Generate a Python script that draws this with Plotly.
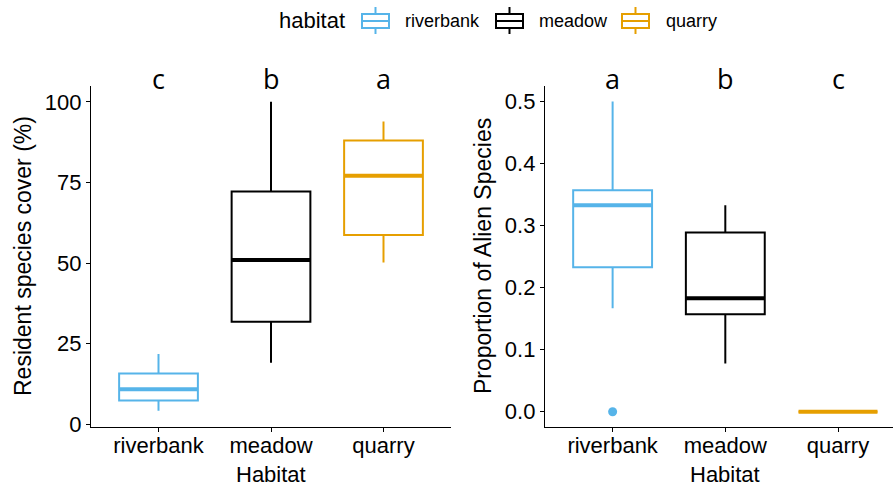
import plotly.graph_objects as go

# ---- data -------------------------------------------------------------
habitats = ["riverbank", "meadow", "quarry"]
colors = ["#56B4E9", "#000000", "#E69F00"]

# Resident species cover (%) box statistics
cover_lower = [4.2, 19.1, 50.2]
cover_q1 = [7.4, 31.8, 58.7]
cover_median = [10.9, 51.0, 77.1]
cover_q3 = [15.8, 72.2, 88.0]
cover_upper = [21.8, 100.0, 93.9]
cover_letters = ["c", "b", "a"]

# Proportion of alien species box statistics
alien_lower = [0.167, 0.078, 0.0]
alien_q1 = [0.233, 0.157, 0.0]
alien_median = [0.333, 0.183, 0.0]
alien_q3 = [0.357, 0.289, 0.0]
alien_upper = [0.5, 0.333, 0.0]
alien_outliers = [[0.0], [], []]
alien_letters = ["a", "b", "c"]

cover_ticks = [0, 25, 50, 75, 100]
alien_ticks = [0.0, 0.1, 0.2, 0.3, 0.4, 0.5]

# ---- layout helpers ---------------------------------------------------
W, H = 893, 486
FONT = "Liberation Sans, Arial, sans-serif"
BOX_W = 0.7


def px(x):
    return x / W


def py(y):
    return 1 - y / H


fig = go.Figure()


def add_panel(xa, ya, lower, q1, med, q3, upper, outliers):
    for i, name in enumerate(habitats):
        pos = i + 1
        fig.add_trace(go.Box(
            x=[pos], q1=[q1[i]], median=[med[i]], q3=[q3[i]],
            lowerfence=[lower[i]], upperfence=[upper[i]],
            width=BOX_W, whiskerwidth=0,
            line=dict(color=colors[i], width=2), fillcolor="white",
            boxpoints=False, name=name, showlegend=False,
            xaxis=xa, yaxis=ya,
        ))
        # thicker median bar
        fig.add_trace(go.Scatter(
            x=[pos - BOX_W / 2, pos + BOX_W / 2], y=[med[i], med[i]],
            mode="lines", line=dict(color=colors[i], width=4),
            showlegend=False, hoverinfo="skip", xaxis=xa, yaxis=ya,
        ))
        if outliers and outliers[i]:
            fig.add_trace(go.Scatter(
                x=[pos] * len(outliers[i]), y=outliers[i], mode="markers",
                marker=dict(color=colors[i], size=9),
                showlegend=False, xaxis=xa, yaxis=ya,
            ))


add_panel("x", "y", cover_lower, cover_q1, cover_median, cover_q3, cover_upper, None)
add_panel("x2", "y2", alien_lower, alien_q1, alien_median, alien_q3, alien_upper, alien_outliers)

axis_common = dict(
    showline=True, linecolor="black", linewidth=1.3,
    ticks="outside", ticklen=4, tickwidth=1.3, tickcolor="black",
    showgrid=False, zeroline=False, automargin=False,
    tickfont=dict(family=FONT, size=22, color="black"),
    fixedrange=True,
)

y_dom = [py(427.3), py(86)]

fig.update_layout(
    width=W, height=H, autosize=False,
    margin=dict(l=0, r=0, t=0, b=0, pad=0),
    paper_bgcolor="white", plot_bgcolor="white",
    showlegend=False,
    xaxis=dict(domain=[px(91), px(451)], range=[0.4, 3.6],
               tickvals=[1, 2, 3], ticktext=habitats, anchor="y",
               ticklabelstandoff=-6, **axis_common),
    yaxis=dict(domain=y_dom, range=[-0.9, 104.9], tickvals=cover_ticks,
               anchor="x", **axis_common),
    xaxis2=dict(domain=[px(545), 1.0], range=[0.4, 3.488],
                tickvals=[1, 2, 3], ticktext=habitats, anchor="y2",
                ticklabelstandoff=-6, **axis_common),
    yaxis2=dict(domain=y_dom, range=[-0.025, 0.525], tickvals=alien_ticks,
                tickformat=".1f", anchor="x2", **axis_common),
)

annotations = []
# significance letters above each box
for xa, letters in (("x", cover_letters), ("x2", alien_letters)):
    for i, letter in enumerate(letters):
        annotations.append(dict(
            x=i + 1, xref=xa, y=py(78), yref="paper", text=letter,
            showarrow=False, xanchor="center", yanchor="middle",
            font=dict(family="Open Sans, sans-serif", size=27, color="black"),
        ))

# axis titles
title_font = dict(family=FONT, size=22, color="black")
for xc in (271, 725):
    annotations.append(dict(x=px(xc), y=py(474), xref="paper", yref="paper",
                            text="Habitat", showarrow=False, font=title_font,
                            xanchor="center", yanchor="middle"))
annotations.append(dict(x=px(23), y=py(256), xref="paper", yref="paper",
                        text="Resident species cover (%)", textangle=-90,
                        showarrow=False, font=dict(family=FONT, size=23, color="black"),
                        xanchor="center", yanchor="middle"))
annotations.append(dict(x=px(483), y=py(256), xref="paper", yref="paper",
                        text="Proportion of Alien Species", textangle=-90,
                        showarrow=False, font=dict(family=FONT, size=23, color="black"),
                        xanchor="center", yanchor="middle"))

# legend (title, keys drawn as mini boxplots, labels)
annotations.append(dict(x=px(277), y=py(21), xref="paper", yref="paper",
                        text="habitat", showarrow=False, xanchor="left",
                        yanchor="middle", font=dict(family=FONT, size=22, color="black")))
key_left = [362, 496, 622]
text_left = [403, 537, 664]
shapes = []
for i, name in enumerate(habitats):
    x0, x1 = key_left[i], key_left[i] + 27
    xc = (x0 + x1) / 2
    c = colors[i]
    shapes.append(dict(type="rect", xref="paper", yref="paper",
                       x0=px(x0), x1=px(x1), y0=py(28), y1=py(14),
                       line=dict(color=c, width=2), fillcolor="white"))
    shapes.append(dict(type="line", xref="paper", yref="paper",
                       x0=px(x0), x1=px(x1), y0=py(21), y1=py(21),
                       line=dict(color=c, width=2)))
    shapes.append(dict(type="line", xref="paper", yref="paper",
                       x0=px(xc), x1=px(xc), y0=py(7), y1=py(14),
                       line=dict(color=c, width=2)))
    shapes.append(dict(type="line", xref="paper", yref="paper",
                       x0=px(xc), x1=px(xc), y0=py(28), y1=py(34),
                       line=dict(color=c, width=2)))
    annotations.append(dict(x=px(text_left[i]), y=py(21), xref="paper", yref="paper",
                            text=name, showarrow=False, xanchor="left",
                            yanchor="middle",
                            font=dict(family=FONT, size=18, color="black")))

fig.update_layout(annotations=annotations, shapes=shapes)

fig.write_html("out.html")
